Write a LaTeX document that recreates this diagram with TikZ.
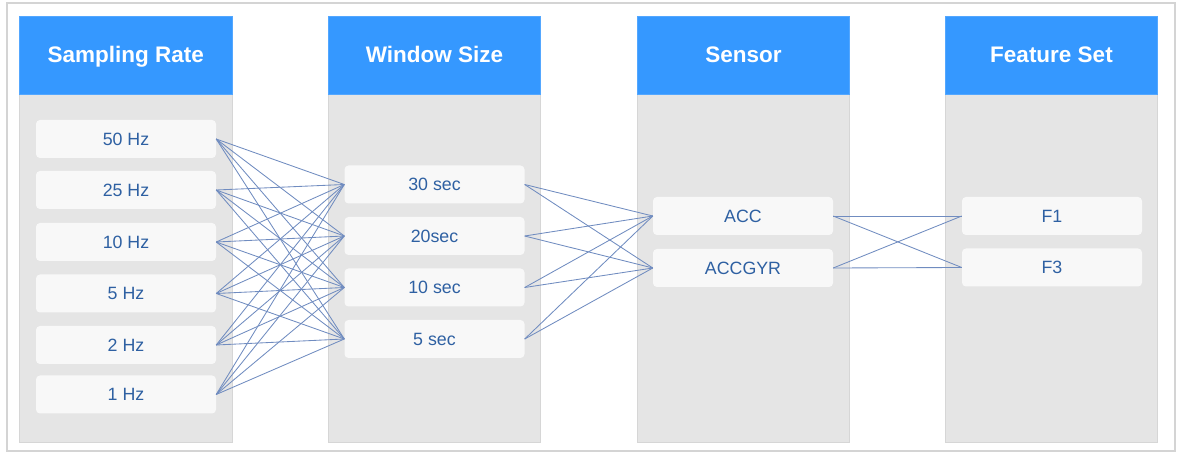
\documentclass[tikz,border=0pt]{standalone}
\usepackage{fontspec}
\setmainfont{Liberation Sans}
\definecolor{hdr}{RGB}{53,152,255}
\definecolor{bodyg}{RGB}{229,229,229}
\definecolor{bodyedge}{RGB}{214,214,214}
\definecolor{itemf}{RGB}{248,248,248}
\definecolor{itemtxt}{RGB}{46,96,162}
\definecolor{conncol}{RGB}{112,140,192}
\definecolor{frame}{RGB}{212,212,212}
\begin{document}
\begin{tikzpicture}[x=1pt,y=-1pt,
  header/.style={fill=hdr, draw=hdr!85!white, line width=0.6pt, minimum width=212.5pt, minimum height=78pt, inner sep=0pt, text=white, text height=16pt, text depth=0pt, font=\fontsize{22.5}{25}\selectfont\bfseries},
  colbody/.style={fill=bodyg, draw=bodyedge, line width=0.6pt, minimum width=212.5pt, minimum height=348pt, inner sep=0pt},
  item/.style={fill=itemf, draw=none, rounded corners=4pt, minimum width=180pt, minimum height=38pt, inner sep=0pt, text=itemtxt, text height=12.8pt, text depth=0pt, font=\fontsize{17.8}{20}\selectfont},
  conn/.style={draw=conncol, line width=0.85pt}
]
\useasboundingbox (0,0) rectangle (1179,454);
\draw[frame, line width=2pt] (7,3.5) rectangle (1175,451.5);

% columns
\node[colbody] (b1) at (125.75,268) {};
\node[colbody] (b2) at (434.5,268) {};
\node[colbody] (b3) at (743.5,268) {};
\node[colbody] (b4) at (1051.5,268) {};
\node[header] (h1) at (125.75,55) {Sampling Rate};
\node[header] (h2) at (434.5,55) {Window Size};
\node[header] (h3) at (743.5,55) {Sensor};
\node[header] (h4) at (1051.5,55) {Feature Set};

% items column 1
\node[item] (s1) at (126,139) {50 Hz};
\node[item] (s2) at (126,190) {25 Hz};
\node[item] (s3) at (126,242) {10 Hz};
\node[item] (s4) at (126,293.5) {5 Hz};
\node[item] (s5) at (126,345) {2 Hz};
\node[item] (s6) at (126,394.5) {1 Hz};

% items column 2
\node[item] (w1) at (434.5,184.5) {30 sec};
\node[item] (w2) at (434.5,236) {20sec};
\node[item] (w3) at (434.5,287.5) {10 sec};
\node[item] (w4) at (434.5,339) {5 sec};

% items column 3
\node[item] (c1) at (743,216) {ACC};
\node[item] (c2) at (743,268) {ACCGYR};

% items column 4
\node[item] (f1) at (1052,216) {F1};
\node[item] (f3) at (1052,267.5) {F3};

% connectors
\foreach \a in {s1,s2,s3,s4,s5,s6}
  \foreach \b in {w1,w2,w3,w4}
    \draw[conn] (\a.east) -- (\b.west);
\foreach \a in {w1,w2,w3,w4}
  \foreach \b in {c1,c2}
    \draw[conn] (\a.east) -- (\b.west);
\foreach \a in {c1,c2}
  \foreach \b in {f1,f3}
    \draw[conn] (\a.east) -- (\b.west);
\end{tikzpicture}
\end{document}
